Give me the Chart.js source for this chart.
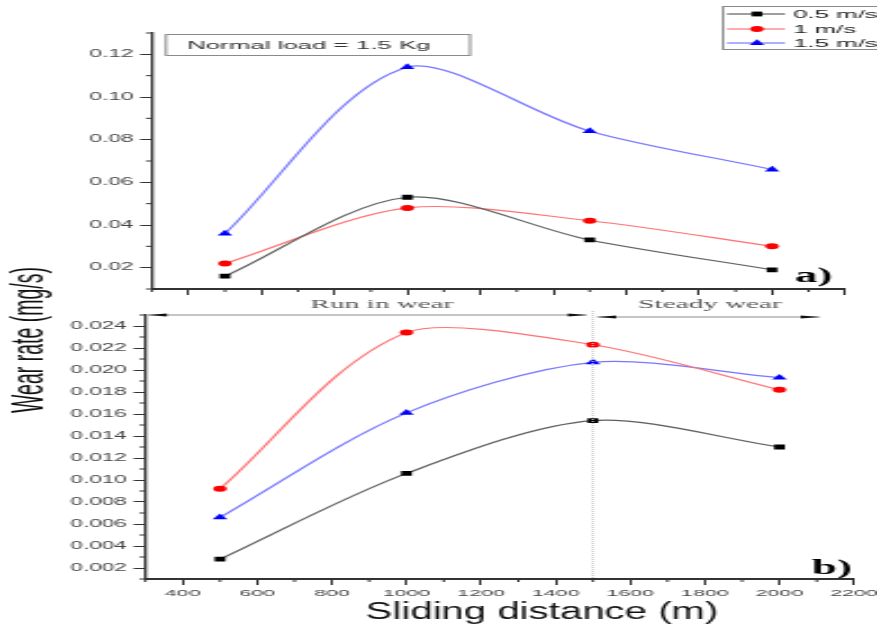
<!DOCTYPE html>
<html>
<head>
<meta charset="utf-8">
<script src="https://cdn.jsdelivr.net/npm/chart.js@4.4.1/dist/chart.umd.min.js"></script>
<style>
  html, body { margin: 0; padding: 0; background: #fff; }
  body { width: 877px; height: 632px; position: relative; overflow: hidden; }
  /* the source figure is squashed vertically, so draw narrow and stretch sideways */
  .panel { position: absolute; left: 0; transform-origin: 0 0; }
  .panel canvas { display: block; }
  #panelA { top: 0; }
  #panelB { top: 255px; }
</style>
</head>
<body>
<div class="panel" id="panelA"><canvas id="chartA" width="390" height="300"></canvas></div>
<div class="panel" id="panelB"><canvas id="chartB" width="390" height="377"></canvas></div>
<script>
const S = 877 / 390;
const gx = (px) => px / S; // page x -> canvas x

const distance = [500, 1000, 1500, 2000];
const speedLabels = ["0.5 m/s", "1 m/s", "1.5 m/s"];

// a) wear rate (mg/s)
const wearA05 = [0.016, 0.053, 0.033, 0.019];
const wearA1  = [0.022, 0.048, 0.042, 0.030];
const wearA15 = [0.036, 0.114, 0.084, 0.066];

// b) wear rate (mg/s)
const wearB05 = [0.0028, 0.0106, 0.0154, 0.0130];
const wearB1  = [0.0092, 0.0234, 0.0223, 0.0182];
const wearB15 = [0.0066, 0.0161, 0.0207, 0.0193];

const xTicks  = [400, 600, 800, 1000, 1200, 1400, 1600, 1800, 2000, 2200];
const xMinor  = [300, 500, 700, 900, 1100, 1300, 1500, 1700, 1900, 2100];
const yTicksA = [0.02, 0.04, 0.06, 0.08, 0.10, 0.12];
const yMinorA = [0.01, 0.03, 0.05, 0.07, 0.09, 0.11, 0.13];
const yTicksB = [0.002, 0.004, 0.006, 0.008, 0.010, 0.012, 0.014, 0.016, 0.018, 0.020, 0.022, 0.024];
const yMinorB = [0.001, 0.003, 0.005, 0.007, 0.009, 0.011, 0.013, 0.015, 0.017, 0.019, 0.021, 0.023, 0.025];

const loadLabel = "Normal load = 1.5 Kg";
const phaseLabels = ["Run in wear", "Steady wear"];
const phaseSplit = 1500;

const SANS  = '"Liberation Sans", Arial, sans-serif';
const SERIF = '"Liberation Serif", "Times New Roman", serif';

const STYLE = [
  { line: "#5e5e5e", mark: "#000000", shape: "rect",     r: 3.4 },
  { line: "#ff7474", mark: "#ff0000", shape: "circle",   r: 3.0 },
  { line: "#7878ff", mark: "#0000ff", shape: "triangle", r: 3.8 }
];

document.querySelectorAll(".panel").forEach(p => { p.style.transform = `scaleX(${S})`; });

function minorTicks(xs, ys) {
  return {
    id: "minorTicks",
    afterDraw(chart) {
      const { ctx } = chart;
      const sx = chart.scales.x, sy = chart.scales.y;
      ctx.save();
      ctx.strokeStyle = "#333";
      ctx.lineWidth = 1;
      ctx.beginPath();
      xs.forEach(v => { const px = sx.getPixelForValue(v); ctx.moveTo(px, sx.top); ctx.lineTo(px, sx.top + 3); });
      ys.forEach(v => { const py = sy.getPixelForValue(v); ctx.moveTo(sy.right, py); ctx.lineTo(sy.right - 2.7, py); });
      ctx.stroke();
      ctx.restore();
    }
  };
}

function marker(ctx, st, x, y) {
  ctx.fillStyle = st.mark;
  if (Chart.helpers && Chart.helpers.drawPoint) {
    Chart.helpers.drawPoint(ctx, { pointStyle: st.shape, radius: st.r, rotation: 0, borderWidth: 0 }, x, y);
  }
}

function arrow(ctx, x1, x2, y) {
  ctx.strokeStyle = "#8c8c8c";
  ctx.lineWidth = 1;
  ctx.beginPath(); ctx.moveTo(x1, y); ctx.lineTo(x2, y); ctx.stroke();
  ctx.fillStyle = "#111";
  const len = 8.5, h = 1.5;
  ctx.beginPath(); ctx.moveTo(x1, y); ctx.lineTo(x1 + len, y - h); ctx.lineTo(x1 + len, y + h); ctx.closePath(); ctx.fill();
  ctx.beginPath(); ctx.moveTo(x2, y); ctx.lineTo(x2 - len, y - h); ctx.lineTo(x2 - len, y + h); ctx.closePath(); ctx.fill();
}

const decorA = {
  id: "decorA",
  afterDraw(chart) {
    const { ctx } = chart;
    ctx.save();
    // load box
    ctx.strokeStyle = "#8a8a8a";
    ctx.lineWidth = 1;
    ctx.strokeRect(gx(166), 34.5, gx(470) - gx(166), 21);
    ctx.fillStyle = "#333";
    ctx.font = `11.5px ${SANS}`;
    ctx.textAlign = "left";
    ctx.textBaseline = "middle";
    ctx.fillText(loadLabel, gx(187), 45.5);
    // legend, runs off the right edge like the source
    ctx.strokeRect(gx(723), 6.5, 120, 43);
    const rows = [14, 29, 43];
    chart.data.datasets.forEach((ds, i) => {
      const y = rows[i];
      ctx.strokeStyle = STYLE[i].line;
      ctx.lineWidth = 1.2;
      ctx.beginPath(); ctx.moveTo(gx(727), y); ctx.lineTo(gx(785), y); ctx.stroke();
      marker(ctx, STYLE[i], gx(757), y);
      ctx.fillStyle = "#222";
      ctx.font = `11.5px ${SANS}`;
      ctx.fillText(ds.label, gx(793), y + 0.5);
    });
    // panel tag
    ctx.fillStyle = "#000";
    ctx.font = `bold 20px ${SERIF}`;
    ctx.textBaseline = "alphabetic";
    ctx.fillText("a)", gx(795), 282);
    ctx.restore();
  }
};

const decorB = {
  id: "decorB",
  afterDraw(chart) {
    const { ctx, chartArea } = chart;
    const sx = chart.scales.x;
    ctx.save();
    // dotted divider between the two wear regimes
    const xd = sx.getPixelForValue(phaseSplit);
    ctx.strokeStyle = "#c4c4c4";
    ctx.lineWidth = 1;
    ctx.setLineDash([1, 1]);
    ctx.beginPath(); ctx.moveTo(xd, chartArea.top - 4); ctx.lineTo(xd, chartArea.bottom); ctx.stroke();
    ctx.setLineDash([]);
    arrow(ctx, chartArea.left + 1, sx.getPixelForValue(1484), chartArea.top);
    arrow(ctx, sx.getPixelForValue(1511), sx.getPixelForValue(2108), chartArea.top + 2);
    ctx.fillStyle = "#555";
    ctx.font = `13px ${SERIF}`;
    ctx.textAlign = "center";
    ctx.textBaseline = "middle";
    ctx.fillText(phaseLabels[0], gx(382), 50);
    ctx.fillText(phaseLabels[1], gx(710), 50);
    // axis titles
    ctx.fillStyle = "#111";
    ctx.save();
    ctx.translate(gx(542), 358);
    ctx.scale(0.76, 1);
    ctx.font = `23.5px ${SANS}`;
    ctx.fillText("Sliding distance (m)", 0, 0);
    ctx.restore();
    ctx.save();
    ctx.translate(gx(31), 85);
    ctx.rotate(-Math.PI / 2);
    ctx.font = `19.5px ${SANS}`;
    ctx.fillText("Wear rate (mg/s)", 0, 0);
    ctx.restore();
    // panel tag
    ctx.fillStyle = "#000";
    ctx.font = `bold 20px ${SERIF}`;
    ctx.textAlign = "left";
    ctx.textBaseline = "alphabetic";
    ctx.fillText("b)", gx(812), 319);
    ctx.restore();
  }
};

function panel(canvas, o) {
  return new Chart(canvas, {
    type: "line",
    data: {
      datasets: o.series.map((vals, i) => ({
        label: speedLabels[i],
        data: distance.map((d, j) => ({ x: d, y: vals[j] })),
        borderColor: STYLE[i].line,
        borderWidth: 1.2,
        tension: 0.3,
        fill: false,
        pointStyle: STYLE[i].shape,
        pointRadius: STYLE[i].r,
        pointHoverRadius: STYLE[i].r,
        pointBackgroundColor: STYLE[i].mark,
        pointBorderColor: STYLE[i].mark,
        pointBorderWidth: 0
      }))
    },
    options: {
      responsive: false,
      animation: false,
      devicePixelRatio: 1,
      events: [],
      layout: { padding: o.padding },
      plugins: { legend: { display: false }, tooltip: { enabled: false } },
      scales: {
        x: {
          type: "linear",
          min: 300,
          max: 2200,
          afterBuildTicks: s => { s.ticks = xTicks.map(v => ({ value: v })); },
          afterFit: s => { s.height = o.xHeight; s.paddingLeft = 0; s.paddingRight = 0; },
          border: { color: "#333", width: 2 },
          grid: { drawOnChartArea: false, tickLength: 6, tickColor: "#333", tickWidth: 1 },
          ticks: {
            display: o.xLabels,
            autoSkip: false,
            maxRotation: 0,
            padding: 3,
            color: "#444",
            font: { family: SANS, size: 9.5 },
            callback: v => String(v)
          }
        },
        y: {
          min: o.yMin,
          max: o.yMax,
          afterBuildTicks: s => { s.ticks = o.yTicks.map(v => ({ value: v })); },
          afterFit: s => { s.width = o.yWidth; s.paddingTop = 0; s.paddingBottom = 0; },
          border: { color: "#333", width: 1.3 },
          grid: { drawOnChartArea: false, tickLength: 5.3, tickColor: "#333", tickWidth: 1 },
          ticks: {
            padding: 3,
            color: "#444",
            font: { family: SANS, size: 10 },
            callback: v => v.toFixed(o.digits)
          }
        }
      }
    },
    plugins: [minorTicks(xMinor, o.yMinor), o.decor]
  });
}

panel(document.getElementById("chartA"), {
  series: [wearA05, wearA1, wearA15],
  yMin: 0.01, yMax: 0.13, yTicks: yTicksA, yMinor: yMinorA, digits: 2,
  padding: { left: 0, top: 33, right: 390 - gx(845), bottom: 0 },
  yWidth: gx(152), xHeight: 11, xLabels: false,
  decor: decorA
});

panel(document.getElementById("chartB"), {
  series: [wearB05, wearB1, wearB15],
  yMin: 0.001, yMax: 0.025, yTicks: yTicksB, yMinor: yMinorB, digits: 3,
  padding: { left: 0, top: 60, right: 390 - gx(854), bottom: 0 },
  yWidth: gx(145.4), xHeight: 53, xLabels: true,
  decor: decorB
});
</script>
</body>
</html>
